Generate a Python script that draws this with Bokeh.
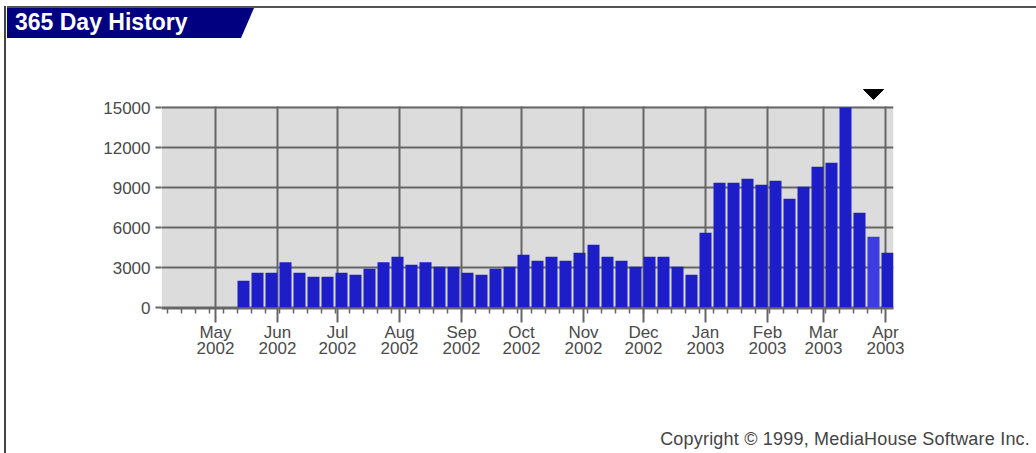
from datetime import date

from bokeh.embed import file_html
from bokeh.layouts import column, row
from bokeh.models import Div, FixedTicker, Range1d
from bokeh.plotting import figure
from bokeh.resources import INLINE

# ---------------- data ----------------
origin = date(2002, 4, 4)          # left edge of the 365-day window
first_week = date(2002, 5, 15)     # centre of the first non-empty weekly bar
visits = [2000, 2600, 2600, 3400, 2600, 2300, 2300, 2600, 2450, 2900,
          3400, 3800, 3200, 3400, 3050, 3050, 2600, 2450, 2900, 3050,
          3950, 3500, 3800, 3500, 4100, 4700, 3800, 3500, 3050, 3800,
          3800, 3050, 2450, 5600, 9350, 9350, 9650, 9200, 9500, 8150,
          9050, 10550, 10850, 15000, 7100, 5300, 4100]
highlight_index = 45               # current (partial) week, lighter bar
month_starts = [date(2002, 5, 1), date(2002, 6, 1), date(2002, 7, 1),
                date(2002, 8, 1), date(2002, 9, 1), date(2002, 10, 1),
                date(2002, 11, 1), date(2002, 12, 1), date(2003, 1, 1),
                date(2003, 2, 1), date(2003, 3, 1), date(2003, 4, 1)]
month_labels = ["May\n2002", "Jun\n2002", "Jul\n2002", "Aug\n2002",
                "Sep\n2002", "Oct\n2002", "Nov\n2002", "Dec\n2002",
                "Jan\n2003", "Feb\n2003", "Mar\n2003", "Apr\n2003"]
y_ticks = [0, 3000, 6000, 9000, 12000, 15000]
y_max = 15000
title_text = "365 Day History"
copyright_text = "Copyright \u00a9 1999, MediaHouse Software Inc."

# ---------------- derived positions (days since origin) ----------------
start_day = (first_week - origin).days
centers = [start_day + 7 * i for i in range(len(visits))]
month_days = [(d - origin).days for d in month_starts]
week_ticks = [3 + 7 * k for k in range(52)]
colors = ["#3c3ce0" if i == highlight_index else "#1e1ec8" for i in range(len(visits))]

FONT = "Liberation Sans"
GRID = "#666666"
LABEL = "#4a4a4a"
W = 1029

# ---------------- left border strip ----------------
left_strip = Div(width=7, height=453, margin=(0, 0, 0, 0),
                 text='<div style="margin-left:4px;margin-top:6px;width:2px;height:447px;'
                      'background:#444;"></div>')

# ---------------- title strip ----------------
top_html = (
    f'<div style="position:relative;width:{W}px;height:40px;">'
    f'<div style="position:absolute;left:0;top:6px;width:{W}px;height:2px;background:#555;"></div>'
    '<div style="position:absolute;left:0;top:8px;width:247px;height:30px;background:#000080;'
    'clip-path:polygon(0 0,247px 0,234px 30px,0 30px);"></div>'
    f'<div style="position:absolute;left:8px;top:7px;height:30px;line-height:30px;color:#fff;'
    f'font-family:\'{FONT}\';font-weight:bold;font-size:23px;white-space:nowrap;">{title_text}</div>'
    '</div>'
)
top_div = Div(text=top_html, width=W, height=40, margin=(0, 0, 0, 0))

# ---------------- main chart ----------------
x_start, x_end = 0, 366
p = figure(width=W, height=375, x_range=Range1d(x_start, x_end), y_range=Range1d(-75, 16575),
           toolbar_location=None, output_backend="svg",
           min_border_left=154, min_border_right=143, min_border_top=46, min_border_bottom=107,
           background_fill_color="white", border_fill_color="white", outline_line_color=None,
           margin=(0, 0, 0, 0))

bg = p.quad(left=[x_start], right=[x_end], bottom=[-75], top=[y_max + 75],
            fill_color="#dcdcdc", line_color=None)
bg.level = "image"

vg = p.segment(x0=month_days, y0=[-75] * len(month_days), x1=month_days,
               y1=[y_max + 75] * len(month_days), line_color=GRID, line_width=2)
vg.level = "underlay"

p.vbar(x=centers, top=visits, bottom=0, width=6, fill_color=colors, line_color=None)

# current-week marker
cx = centers[highlight_index]
p.patch(x=[cx - 5, cx + 5, cx], y=[y_max + 18 * 75, y_max + 18 * 75, y_max + 8 * 75],
        color="black")

# x axis
p.xaxis.ticker = FixedTicker(ticks=month_days, minor_ticks=week_ticks)
p.xaxis.major_label_overrides = {d: lab for d, lab in zip(month_days, month_labels)}
p.xaxis.axis_line_color = GRID
p.xaxis.axis_line_width = 2
p.xaxis.major_tick_in = 0
p.xaxis.major_tick_out = 14
p.xaxis.major_tick_line_color = GRID
p.xaxis.major_tick_line_width = 2
p.xaxis.minor_tick_in = 0
p.xaxis.minor_tick_out = 5
p.xaxis.minor_tick_line_color = GRID
p.xaxis.minor_tick_line_width = 1.5
p.xaxis.major_label_standoff = 0
p.xaxis.major_label_text_font = FONT
p.xaxis.major_label_text_font_size = "17px"
p.xaxis.major_label_text_color = LABEL
p.xaxis.major_label_text_line_height = 0.85

# y axis
p.yaxis.ticker = FixedTicker(ticks=y_ticks)
p.yaxis.axis_line_color = None
p.yaxis.major_tick_in = 0
p.yaxis.major_tick_out = 6
p.yaxis.major_tick_line_color = GRID
p.yaxis.major_tick_line_width = 2
p.yaxis.minor_tick_line_color = None
p.yaxis.major_label_standoff = 5
p.yaxis.major_label_text_font = FONT
p.yaxis.major_label_text_font_size = "17px"
p.yaxis.major_label_text_color = LABEL

# grids
p.xgrid.visible = False
p.ygrid.ticker = FixedTicker(ticks=y_ticks)
p.ygrid.grid_line_color = GRID
p.ygrid.grid_line_width = 2

# ---------------- copyright strip ----------------
bottom_div = Div(
    text=(f'<div style="width:{W}px;height:38px;box-sizing:border-box;padding-top:14px;'
          f'padding-right:6px;text-align:right;font-family:\'{FONT}\';font-size:18px;'
          f'line-height:20px;letter-spacing:0.2px;color:#444;white-space:nowrap;">'
          f'{copyright_text}</div>'),
    width=W, height=38, margin=(0, 0, 0, 0))

layout = row(left_strip, column(top_div, p, bottom_div, spacing=0), spacing=0)
open("out.html", "w").write(file_html(layout, INLINE))
